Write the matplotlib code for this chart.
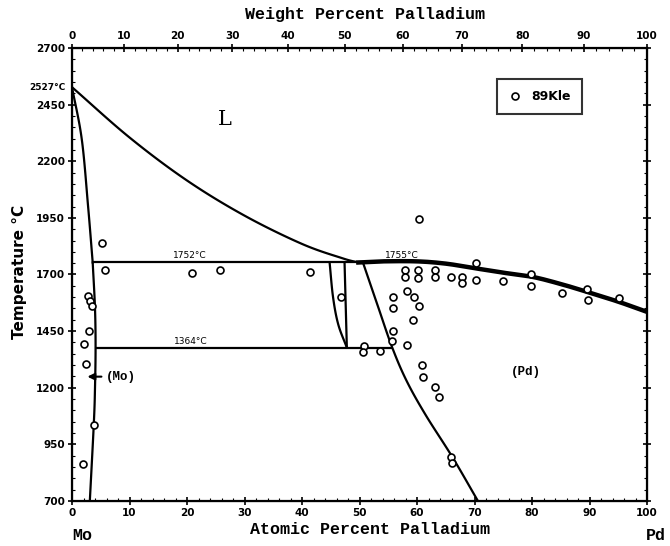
import matplotlib
matplotlib.use("Agg")
import matplotlib.pyplot as plt
from matplotlib.ticker import MultipleLocator
import numpy as np

# ---- data (atomic % Pd, temperature °C) ----
liq_mo_x = [0, 10, 20, 30, 40, 47, 49.8]
liq_mo_t = [2527, 2305, 2115, 1960, 1835, 1772, 1753]

sol_mo_x = [0, 1.7, 2.8, 3.6]
sol_mo_t = [2527, 2297, 2000, 1753]

solv_mo_x = [3.6, 4.0, 4.1, 4.0, 3.8, 3.1]
solv_mo_t = [1753, 1550, 1377, 1200, 1045, 700]

liq_pd_x = [49.8, 54, 60, 65, 70, 75, 80, 85, 90, 95, 100]
liq_pd_t = [1753, 1758, 1758, 1748, 1728, 1708, 1690, 1658, 1620, 1580, 1535]

solv_pd_x = [50.6, 53.2, 55.7, 58.2, 61.5, 66.2, 70.6]
solv_pd_t = [1753, 1560, 1377, 1230, 1080, 892, 700]

eps_left_x = [44.8, 45.4, 46.3, 47.8]
eps_left_t = [1753, 1600, 1480, 1377]
eps_right_x = [47.4, 47.8]
eps_right_t = [1753, 1377]

peritectic_x = [3.6, 50.6]
peritectic_t = [1753, 1753]
eutectoid_x = [4.1, 55.7]
eutectoid_t = [1377, 1377]

pts_x = [5.2, 5.7, 2.8, 3.1, 3.4, 3.0, 2.1, 2.4, 1.96, 3.8,
         20.8, 25.8, 41.4, 46.8,
         60.3, 57.9, 57.9, 60.2, 60.2, 63.1, 63.1, 65.9, 67.9, 67.9,
         70.2, 70.2, 58.3, 59.4, 55.8, 55.8, 60.4, 59.3, 55.8, 55.6,
         58.2, 50.8, 50.6, 53.6, 60.8, 61.0, 63.1, 63.8, 65.9, 66.1,
         75.0, 79.9, 79.8, 85.3, 89.5, 89.8, 95.2]
pts_t = [1837, 1722, 1604, 1582, 1560, 1449, 1395, 1306, 864, 1036,
         1708, 1720, 1710, 1601,
         1947, 1722, 1690, 1722, 1686, 1718, 1690, 1690, 1690, 1663,
         1752, 1674, 1629, 1601, 1601, 1550, 1560, 1498, 1449, 1405,
         1387, 1383, 1358, 1361, 1299, 1247, 1203, 1160, 895, 868,
         1673, 1704, 1651, 1619, 1634, 1586, 1597]

x_ticks = list(range(0, 101, 10))
y_ticks = list(range(700, 2701, 250))
wt_ticks = list(range(0, 101, 10))

M_MO, M_PD = 95.95, 106.42
def wt_to_at(w):
    w = np.asarray(w, dtype=float)
    a = w / M_PD
    b = (100 - w) / M_MO
    return 100 * a / (a + b)


def smooth(xs, ts, n=20):
    """Catmull-Rom rendering through the read points (drawing only)."""
    P = np.column_stack([xs, ts]).astype(float)
    if len(P) < 3:
        return P[:, 0], P[:, 1]
    S = np.array([5.75, 0.2265])
    Q = P * S
    Q = np.vstack([2 * Q[0] - Q[1], Q, 2 * Q[-1] - Q[-2]])
    out = []
    for i in range(1, len(Q) - 2):
        p0, p1, p2, p3 = Q[i - 1], Q[i], Q[i + 1], Q[i + 2]
        for s in np.linspace(0, 1, n, endpoint=False):
            s2, s3 = s * s, s * s * s
            out.append(0.5 * ((2 * p1) + (-p0 + p2) * s
                              + (2 * p0 - 5 * p1 + 4 * p2 - p3) * s2
                              + (-p0 + 3 * p1 - 3 * p2 + p3) * s3))
    out.append(Q[-2])
    out = np.array(out) / S
    return out[:, 0], out[:, 1]


fig = plt.figure(figsize=(6.70, 5.46), dpi=100)
ax = fig.add_axes([72/670, 1-501/546, 575/670, 453/546])
ax.set_xlim(0, 100)
ax.set_ylim(700, 2700)

lw = 1.6
for xs, ts in [(liq_mo_x, liq_mo_t), (sol_mo_x, sol_mo_t), (solv_mo_x, solv_mo_t),
               (solv_pd_x, solv_pd_t), (eps_left_x, eps_left_t)]:
    sx, st = smooth(xs, ts)
    ax.plot(sx, st, color="black", lw=lw)
for xs, ts in [(eps_right_x, eps_right_t), (peritectic_x, peritectic_t),
               (eutectoid_x, eutectoid_t)]:
    ax.plot(xs, ts, color="black", lw=lw, solid_capstyle="butt")
sx, st = smooth(liq_pd_x, liq_pd_t)
ax.plot(sx, st, color="black", lw=3.2)

ax.plot(pts_x, pts_t, linestyle="none", marker="o", markersize=5,
        markerfacecolor="white", markeredgecolor="black", markeredgewidth=1.2,
        label="89Kle", zorder=3)

tfont = dict(fontsize=7.5, fontweight="bold", family="DejaVu Sans")
ax.set_xticks(x_ticks)
ax.set_yticks(y_ticks)
ax.set_xticklabels([str(v) for v in x_ticks], **tfont)
ax.set_yticklabels([str(v) for v in y_ticks], **tfont)
ax.xaxis.set_minor_locator(MultipleLocator(2))
ax.yaxis.set_minor_locator(MultipleLocator(50))
ax.tick_params(which="major", direction="inout", length=6, width=1.2, pad=2,
               top=False, right=True)
ax.tick_params(which="minor", direction="in", length=2, width=0.8,
               top=False, right=True)
for s in ax.spines.values():
    s.set_linewidth(1.6)

# top weight-percent axis
axt = ax.twiny()
axt.set_xlim(0, 100)
axt.set_xticks(wt_to_at(wt_ticks))
axt.set_xticklabels([str(v) for v in wt_ticks], **tfont)
axt.set_xticks(wt_to_at(np.arange(0, 101, 2)), minor=True)
axt.tick_params(which="major", direction="inout", length=6, width=1.2, pad=2)
axt.tick_params(which="minor", direction="in", length=2, width=0.8)

lab = dict(fontsize=12, fontweight="bold", family="Liberation Mono")
fig.text(370/670, 1-530/546, "Atomic Percent Palladium", ha="center", va="center", **lab)
fig.text(365/670, 1-14/546, "Weight Percent Palladium", ha="center", va="center", **lab)
fig.text(20/670, 1-272/546, "Temperature °C", rotation=90, ha="center", va="center",
         fontsize=11, fontweight="bold", family="DejaVu Sans")
fig.text(82/670, 1-535/546, "Mo", ha="center", va="center", **lab)
fig.text(656/670, 1-535/546, "Pd", ha="center", va="center", **lab)

ax.text(-0.012, 2527, "2527°C", transform=ax.get_yaxis_transform(), ha="right",
        va="center", fontsize=6.5, fontweight="bold")

small = dict(fontsize=6.5, ha="center", va="bottom")
ax.text(20.4, 1762, "1752°C", **small)
ax.text(20.7, 1385, "1364°C", **small)
ax.text(57.4, 1762, "1755°C", **small)

ax.text(26.6, 2385, "L", fontsize=15, family="DejaVu Serif", ha="center", va="center")
ax.text(79, 1271, "(Pd)", fontsize=9, fontweight="bold", family="Liberation Mono",
        ha="center", va="center")
ax.annotate("", xy=(2.2, 1249), xytext=(5.6, 1249),
            arrowprops=dict(arrowstyle="-|>", color="black", lw=1.5, mutation_scale=10))
ax.text(5.9, 1249, "(Mo)", fontsize=9, fontweight="bold", family="Liberation Mono",
        ha="left", va="center")

leg = ax.legend(loc="center", bbox_to_anchor=(0.813, 0.893), frameon=True,
                fancybox=False, edgecolor="black", handlelength=1.0,
                handletextpad=0.8, borderpad=0.9,
                prop=dict(size=9, weight="bold", family="DejaVu Sans"))
leg.get_frame().set_linewidth(1.5)

fig.savefig("out.png", dpi=100)
